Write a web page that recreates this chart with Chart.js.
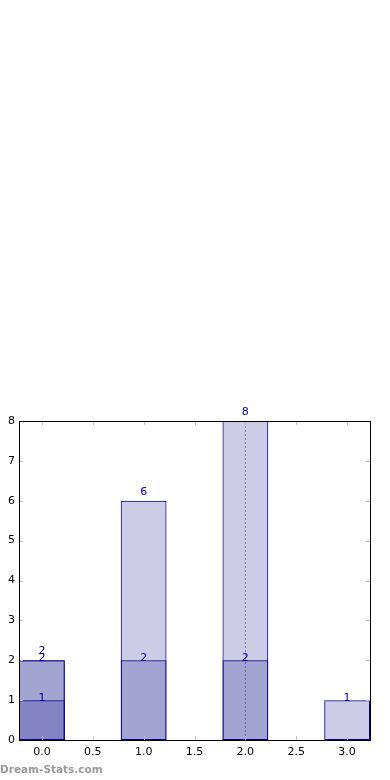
<!DOCTYPE html>
<html>
<head>
<meta charset="utf-8">
<script src="https://cdn.jsdelivr.net/npm/chart.js@4/dist/chart.umd.min.js"></script>
<style>
  html, body { margin: 0; padding: 0; background: #fff; }
  #wrap { position: relative; width: 390px; height: 780px; }
  #mark { position: absolute; left: 0; top: 763px; font: bold 10.5px "DejaVu Sans", sans-serif; color: #999; white-space: nowrap; }
</style>
</head>
<body>
<div id="wrap">
  <canvas id="c" width="390" height="780"></canvas>
  <div id="mark">Dream-Stats.com</div>
</div>
<script>
// ---- data ----
const categories = [0, 1, 2, 3];
const seriesA = [2, 6, 8, 0];   // tallest layer (labels drawn a bit higher)
const seriesB = [2, 2, 2, 1];
const seriesC = [1, 0, 0, 0];
const xTicks = [0, 0.5, 1, 1.5, 2, 2.5, 3];
const yTicks = [0, 1, 2, 3, 4, 5, 6, 7, 8];
const markerX = 2;              // dotted vertical reference line
const markerY = [0, 8];

const fill = 'rgba(0,0,128,0.2)';
const edge = '#00008b';

function pts(vals) { return categories.map((c, i) => ({ x: c, y: vals[i] === 0 ? null : vals[i] })); }

const barCommon = {
  type: 'bar',
  backgroundColor: fill,
  borderColor: edge,
  borderWidth: 1,
  borderSkipped: false,
  grouped: false,
  barPercentage: 0.9,
  categoryPercentage: 1.0
};

const labelPlugin = {
  id: 'labels',
  afterDatasetsDraw(chart) {
    const ctx = chart.ctx;
    ctx.save();
    ctx.font = '11px "DejaVu Sans", sans-serif';
    ctx.fillStyle = '#0000a0';
    ctx.textAlign = 'center';
    ctx.textBaseline = 'middle';
    chart.data.datasets.forEach((ds, di) => {
      if (ds.type !== 'bar') return;
      const meta = chart.getDatasetMeta(di);
      meta.data.forEach((el, i) => {
        const v = ds.data[i].y;
        if (!v) return;
        ctx.fillText(String(v), el.x, el.y - ds.labelOffset);
      });
    });
    ctx.restore();
  },
  afterDraw(chart) {
    const ctx = chart.ctx;
    const a = chart.chartArea;
    const xs = chart.scales.x, ys = chart.scales.y;
    ctx.save();
    ctx.strokeStyle = '#bbbbbb';
    ctx.lineWidth = 1;
    ctx.beginPath();
    xTicks.forEach(t => {
      const px = Math.round(xs.getPixelForValue(t)) + 0.5;
      ctx.moveTo(px, a.bottom); ctx.lineTo(px, a.bottom - 4);
      ctx.moveTo(px, a.top); ctx.lineTo(px, a.top + 4);
    });
    yTicks.forEach(t => {
      const py = Math.round(ys.getPixelForValue(t)) + 0.5;
      ctx.moveTo(a.left, py); ctx.lineTo(a.left + 4, py);
      ctx.moveTo(a.right, py); ctx.lineTo(a.right - 4, py);
    });
    ctx.stroke();
    ctx.strokeStyle = '#000';
    ctx.strokeRect(Math.round(a.left) + 0.5, Math.round(a.top) + 0.5,
                   Math.round(a.right - a.left), Math.round(a.bottom - a.top));
    ctx.restore();
  }
};

new Chart(document.getElementById('c'), {
  data: {
    datasets: [
      Object.assign({}, barCommon, { label: 'A', data: pts(seriesA), labelOffset: 9, order: 3 }),
      Object.assign({}, barCommon, { label: 'B', data: pts(seriesB), labelOffset: 2, order: 2 }),
      Object.assign({}, barCommon, { label: 'C', data: pts(seriesC), labelOffset: 2, order: 1 }),
      {
        type: 'line',
        label: 'ref',
        data: markerY.map(y => ({ x: markerX, y })),
        borderColor: 'rgba(110,110,130,0.7)',
        borderWidth: 1,
        borderDash: [2, 2],
        pointRadius: 0,
        fill: false,
        order: 10
      }
    ]
  },
  options: {
    responsive: false,
    animation: false,
    layout: { padding: { top: 421, right: 20, left: 0, bottom: 0 } },
    plugins: { legend: { display: false }, tooltip: { enabled: false }, title: { display: false } },
    scales: {
      x: {
        type: 'linear',
        min: -0.225,
        max: 3.225,
        offset: false,
        grid: { display: false, drawTicks: false },
        border: { display: false },
        afterFit(s) { s.height = 40; },
        afterBuildTicks(s) { s.ticks = xTicks.map(v => ({ value: v })); },
        ticks: {
          padding: 6,
          color: '#000',
          font: { family: 'DejaVu Sans', size: 11 },
          callback: v => Number(v).toFixed(1),
          maxRotation: 0,
          autoSkip: false
        }
      },
      y: {
        type: 'linear',
        min: 0,
        max: 8,
        grid: { display: false, drawTicks: false },
        border: { display: false },
        afterFit(s) { s.width = 19; },
        afterBuildTicks(s) { s.ticks = yTicks.map(v => ({ value: v })); },
        ticks: {
          padding: 4,
          color: '#000',
          font: { family: 'DejaVu Sans', size: 11 },
          autoSkip: false
        }
      }
    }
  },
  plugins: [labelPlugin]
});
</script>
</body>
</html>
